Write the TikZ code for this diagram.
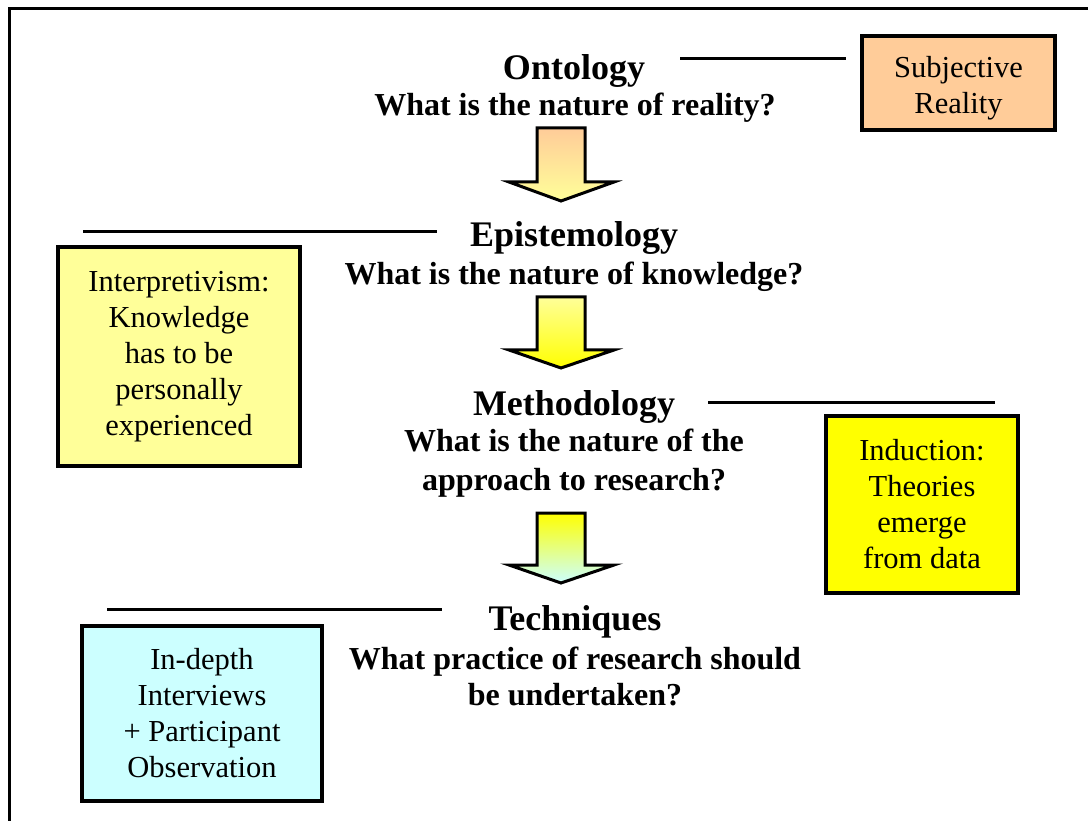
\documentclass[tikz,border=0pt]{standalone}
\usepackage{fontspec}
\setmainfont{Liberation Serif}
\definecolor{peach}{HTML}{FFCC99}
\definecolor{paleyellow}{HTML}{FFFF99}
\definecolor{brightyellow}{HTML}{FFFF00}
\definecolor{palecyan}{HTML}{CCFFFF}
\tikzset{
  heading/.style={anchor=base, font=\fontsize{36}{40}\selectfont\bfseries},
  question/.style={anchor=base, font=\fontsize{32}{36}\selectfont\bfseries},
  boxtext/.style={align=center, inner sep=0pt, font=\fontsize{30.5}{36}\selectfont},
  infobox/.style={draw=black, line width=4pt, boxtext},
  rule/.style={line width=3pt},
}
% block arrow pointing down: #1 shaft top, #2 head top, #3 tip, #4/#5 gradient colours
\newcommand\pdarrow[5]{%
  \shadedraw[line width=3pt, line join=miter, top color=#4, bottom color=#5]
    (537,#1) -- (585,#1) -- (585,#2) -- (614,#2) -- (561,#3) -- (509,#2)
    -- (537,#2) -- cycle;}
\begin{document}
\begin{tikzpicture}[x=1pt,y=-1pt]
\useasboundingbox (0,0) rectangle (1088,821);
\fill[white] (0,0) rectangle (1088,821);
% frame
\draw[line width=3pt] (9,821) -- (9,9) -- (1088,9);

% Ontology
\node[heading] (ont) at (574,80) {Ontology};
\node[question] (ontq) at (575,116) {What is the nature of reality?};
\node[infobox, fill=peach, minimum width=193pt, minimum height=94pt] (subj) at (958.5,83) {};
\node[boxtext] (subjtxt) at (958.5,88) {Subjective\\Reality};
\coordinate (ontA) at (680,59);
\coordinate (ontB) at (846,59);
\draw[rule] (ontA) -- (ontB);
\pdarrow{128}{182}{201}{peach}{paleyellow}

% Epistemology
\node[heading] (epi) at (574,247) {Epistemology};
\node[question] (epiq) at (574,285) {What is the nature of knowledge?};
\coordinate (epiA) at (83,232);
\coordinate (epiB) at (437,232);
\draw[rule] (epiA) -- (epiB);
\node[infobox, fill=paleyellow, minimum width=242pt, minimum height=219pt] (interp) at (179,356.5)
  {Interpretivism:\\Knowledge\\has to be\\personally\\experienced};
\pdarrow{297}{350}{368}{paleyellow}{brightyellow}

% Methodology
\node[heading] (meth) at (574,415) {Methodology};
\node[question] (methq1) at (574,451) {What is the nature of the};
\node[question] (methq2) at (574,490) {approach to research?};
\coordinate (methA) at (708,402);
\coordinate (methB) at (995,402);
\draw[rule] (methA) -- (methB);
\node[infobox, fill=brightyellow, minimum width=192pt, minimum height=177pt] (induc) at (922,504.5)
  {Induction:\\Theories\\emerge\\from data};
\pdarrow{513}{565}{583}{brightyellow}{palecyan}

% Techniques
\node[heading] (tech) at (575,630) {Techniques};
\node[question] (techq1) at (575,669) {What practice of research should};
\node[question] (techq2) at (575,705) {be undertaken?};
\coordinate (techA) at (107,609);
\coordinate (techB) at (442,609);
\draw[rule] (techA) -- (techB);
\node[infobox, fill=palecyan, minimum width=240pt, minimum height=175pt] (indepth) at (202,713.5)
  {In-depth\\Interviews\\+ Participant\\Observation};
\end{tikzpicture}
\end{document}
